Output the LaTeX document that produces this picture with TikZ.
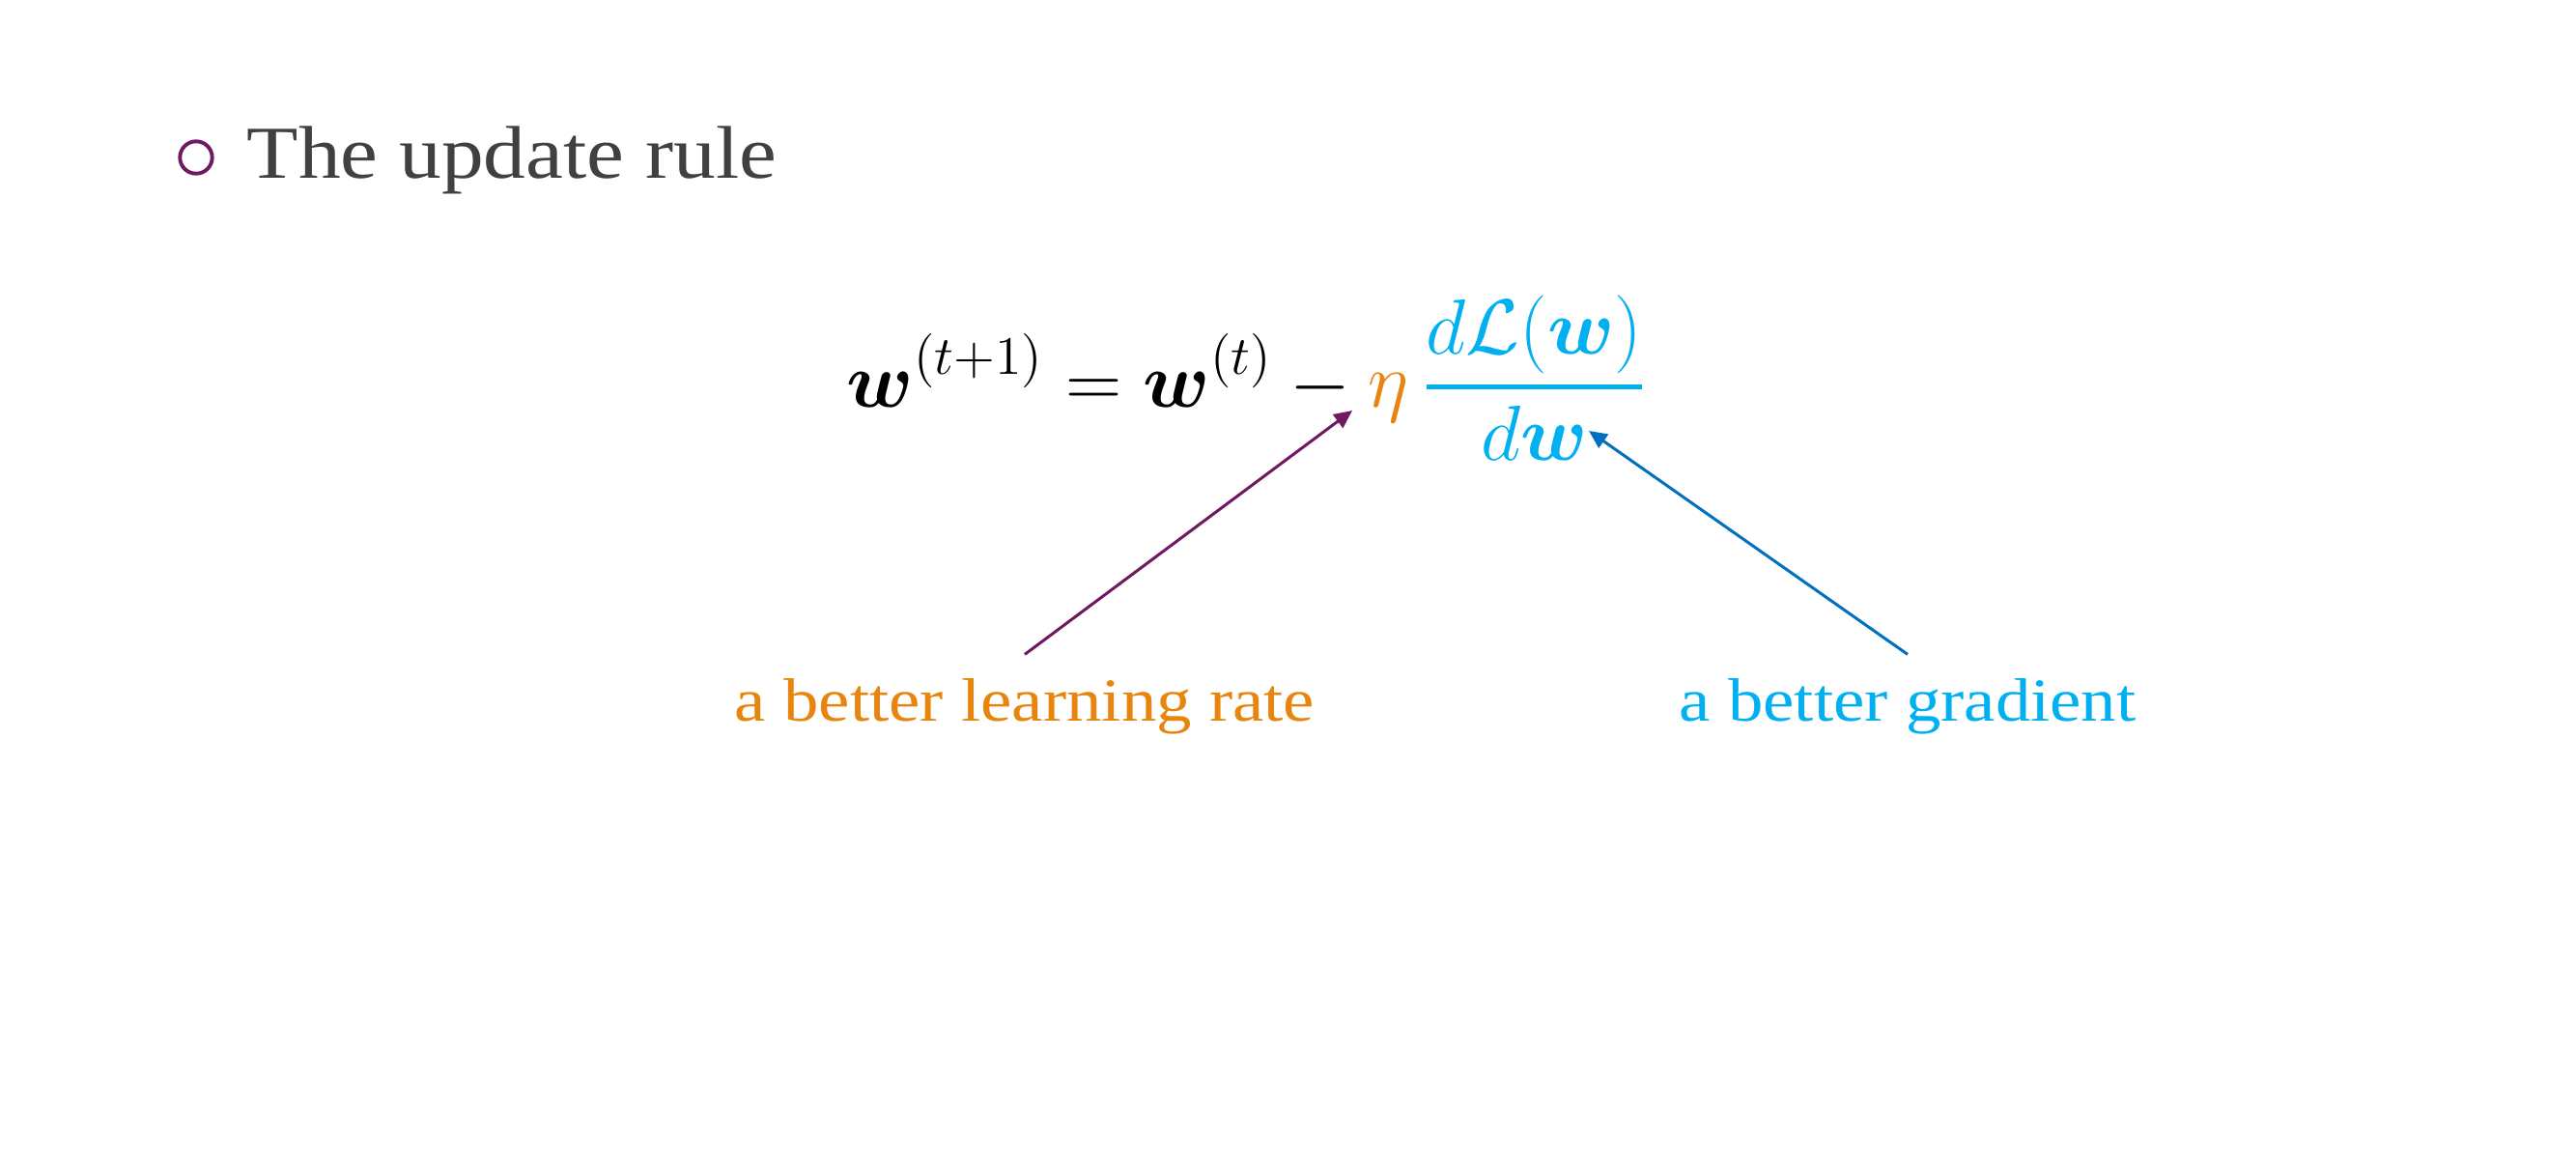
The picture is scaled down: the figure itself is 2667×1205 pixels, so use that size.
\documentclass[tikz,border=0pt]{standalone}
\usepackage{amsmath,amssymb,bm}
\usepackage{fontspec}
\setmainfont{Liberation Serif}
\usetikzlibrary{arrows.meta}
\definecolor{ppurple}{RGB}{112,24,98}
\definecolor{porange}{RGB}{232,133,15}
\definecolor{pcyan}{RGB}{0,176,240}
\definecolor{pblue}{RGB}{0,112,192}
\definecolor{pgray}{RGB}{64,64,64}
\tikzset{
  arr/.style={line width=0.85pt,-{Triangle[length=5.3pt,width=4.8pt]}},
  lbl/.style={anchor=north,inner sep=0pt,font=\fontsize{18}{21}\selectfont},
}
\begin{document}
\begin{tikzpicture}[x=0.01cm,y=-0.01cm]
\useasboundingbox[fill=white] (0,0) rectangle (2667,1205);
\node[circle,draw=ppurple,line width=1.1pt,inner sep=0pt,minimum size=9.5pt] (bul) at (203,163) {};
\node[anchor=base west,inner sep=0pt,text=pgray,font=\fontsize{22}{26}\selectfont] (title) at (255,184) {\scalebox{1.13}[1]{The update rule}};
\node[anchor=base west,inner sep=0pt,font=\fontsize{20.74}{25}\selectfont] (eq) at (876,421)
 {\scalebox{1.108}{$\displaystyle \bm{w}^{(t+1)} = \bm{w}^{(t)} - {\color{porange}\eta}\,
 {\color{pcyan}\genfrac{}{}{1.2pt}{0}{\smash[b]{d\mathcal{L}(\bm{w})}}{d\bm{w}}}$}};
\coordinate (etatip) at (1400,425);
\coordinate (dwtip) at (1645,446);
\node[lbl,text=porange] (lr) at (1061,702) {\scalebox{1.15}[1]{a better learning rate}};
\node[lbl,text=pcyan] (gr) at (1975,702) {\scalebox{1.15}[1]{a better gradient}};
\draw[arr,ppurple] ([yshift=7pt]lr.north) -- (etatip);
\draw[arr,pblue] ([yshift=7pt]gr.north) -- (dwtip);
\end{tikzpicture}
\end{document}
